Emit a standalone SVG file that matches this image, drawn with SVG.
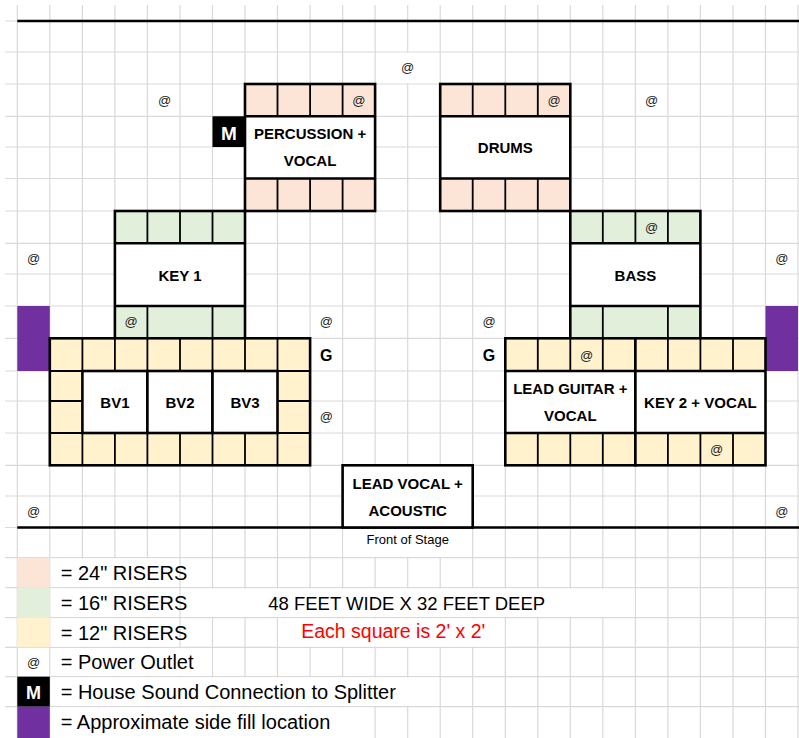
<svg xmlns="http://www.w3.org/2000/svg" width="799" height="738" viewBox="0 0 799 738">
<style>
.grid{stroke:#d9d9d9;stroke-width:1.2;fill:none}
.edge{stroke:#000;stroke-width:2.6;fill:none}
.inner{stroke:#000;stroke-width:1.8;fill:none}
.pink{fill:#FCE4D6}
.green{fill:#E2EFDA}
.yellow{fill:#FFF2CC}
.purple{fill:#7030A0}
.white{fill:#fff}
.lbl{font-family:'Liberation Sans',Arial,sans-serif;font-weight:bold;font-size:15px;fill:#000;text-anchor:middle}
.g{font-family:'Liberation Sans',Arial,sans-serif;font-weight:bold;font-size:16px;fill:#000;text-anchor:middle}
.at{font-family:'Liberation Sans',Arial,sans-serif;font-size:13px;fill:#222;text-anchor:middle}
.leg{font-family:'Liberation Sans',Arial,sans-serif;font-size:20px;fill:#000}
.m{font-family:'Liberation Sans',Arial,sans-serif;font-weight:bold;fill:#fff;text-anchor:middle}
</style>
<rect width="799" height="738" fill="#fff"/>
<g id="grid">
<path class="grid" d="M17.3 5V738M49.8 5V738M82.4 5V738M114.9 5V738M147.4 5V738M180 5V738M212.5 5V738M245 5V738M277.5 5V738M310.1 5V738M342.6 5V738M375.1 5V738M407.7 5V738M440.2 5V738M472.7 5V738M505.3 5V738M537.8 5V738M570.3 5V738M602.8 5V738M635.4 5V738M667.9 5V738M700.4 5V738M733 5V738M765.5 5V738M798 5V738"/>
<path class="grid" d="M5 21H799M5 52H799M5 84H799M5 116.3H799M5 147H799M5 178.5H799M5 211H799M5 243.3H799M5 274H799M5 306H799M5 338.3H799M5 371H799M5 401H799M5 433H799M5 465.3H799M5 496H799M5 527.5H799M5 557.7H799M5 587.7H799M5 617.7H799M5 647.3H799M5 676.7H799M5 706.7H799"/>
<g fill="#fff">
<rect x="376.1" y="52.8" width="63.1" height="30.4"/>
<rect x="343.6" y="528.5" width="128.1" height="28.4"/>
<rect x="50.8" y="558.5" width="128.2" height="28.4"/>
<rect x="50.8" y="588.5" width="128.2" height="28.4"/>
<rect x="181" y="588.5" width="453.4" height="28.4"/>
<rect x="50.8" y="618.5" width="128.2" height="28"/>
<rect x="278.5" y="618.5" width="225.8" height="28"/>
<rect x="50.8" y="648.1" width="160.7" height="27.8"/>
<rect x="50.8" y="677.5" width="388.4" height="28.4"/>
<rect x="50.8" y="707.5" width="323.3" height="30.5"/>
</g>
<path d="M17.3 21H799M17.3 527.5H799" stroke="#000" stroke-width="2.6" fill="none"/>
</g>
<g id="side-fill-left"><rect class="purple" x="17.3" y="306" width="32.5" height="65"/></g>
<g id="side-fill-right"><rect class="purple" x="765.5" y="306" width="32.5" height="65"/></g>
<g id="house-sound-m">
<rect x="212.5" y="116.3" width="32.5" height="30.7" fill="#000"/>
<text class="m" x="228.8" y="139.5" font-size="19">M</text>
</g>
<g id="percussion">
<rect class="pink" x="245" y="84" width="130.1" height="127"/>
<rect class="white" x="245" y="116.3" width="130.1" height="62.2"/>
<path class="inner" d="M277.5 84V116.3M310.1 84V116.3M342.6 84V116.3M277.5 178.5V211M310.1 178.5V211M342.6 178.5V211"/>
<path class="edge" d="M245 116.3H375.1M245 178.5H375.1"/>
<rect class="edge" x="245" y="84" width="130.1" height="127"/>
<text class="lbl" x="310.1" y="139.3">PERCUSSION +</text>
<text class="lbl" x="310.1" y="166">VOCAL</text>
<text class="at" x="358.9" y="105">@</text>
</g>
<g id="drums">
<rect class="pink" x="440.2" y="84" width="130.1" height="127"/>
<rect class="white" x="440.2" y="116.3" width="130.1" height="62.2"/>
<path class="inner" d="M472.7 84V116.3M505.3 84V116.3M537.8 84V116.3M472.7 178.5V211M505.3 178.5V211M537.8 178.5V211"/>
<path class="edge" d="M440.2 116.3H570.3M440.2 178.5H570.3"/>
<rect class="edge" x="440.2" y="84" width="130.1" height="127"/>
<text class="lbl" x="505.3" y="152.6">DRUMS</text>
<text class="at" x="554" y="105">@</text>
</g>
<g id="key1">
<rect class="green" x="114.9" y="211" width="130.1" height="127.3"/>
<rect class="white" x="114.9" y="243.3" width="130.1" height="62.7"/>
<path class="inner" d="M147.4 211V243.3M180 211V243.3M212.5 211V243.3M147.4 306V338.3M212.5 306V338.3"/>
<path class="edge" d="M114.9 243.3H245M114.9 306H245"/>
<rect class="edge" x="114.9" y="211" width="130.1" height="127.3"/>
<text class="lbl" x="180" y="281">KEY 1</text>
<text class="at" x="131.2" y="325.9">@</text>
</g>
<g id="bass">
<rect class="green" x="570.3" y="211" width="130.1" height="127.3"/>
<rect class="white" x="570.3" y="243.3" width="130.1" height="62.7"/>
<path class="inner" d="M602.8 211V243.3M635.4 211V243.3M667.9 211V243.3M602.8 306V338.3M667.9 306V338.3"/>
<path class="edge" d="M570.3 243.3H700.4M570.3 306H700.4"/>
<rect class="edge" x="570.3" y="211" width="130.1" height="127.3"/>
<text class="lbl" x="635.4" y="281">BASS</text>
<text class="at" x="651.6" y="231.7">@</text>
</g>
<g id="bv-riser">
<rect class="yellow" x="49.8" y="338.3" width="260.3" height="127"/>
<path class="inner" d="M82.4 338.3V371M114.9 338.3V371M147.4 338.3V371M180 338.3V371M212.5 338.3V371M245 338.3V371M277.5 338.3V371M82.4 433V465.3M114.9 433V465.3M147.4 433V465.3M180 433V465.3M212.5 433V465.3M245 433V465.3M277.5 433V465.3M49.8 401H82.4M277.5 401H310.1M49.8 371H310.1M49.8 433H310.1"/>
<rect class="edge" x="49.8" y="338.3" width="260.3" height="127"/>
</g>
<g id="bv1">
<rect class="edge" x="82.4" y="371" width="65" height="62" style="fill:#fff"/>
<text class="lbl" x="114.9" y="408">BV1</text>
</g>
<g id="bv2">
<rect class="edge" x="147.4" y="371" width="65.1" height="62" style="fill:#fff"/>
<text class="lbl" x="180" y="408">BV2</text>
</g>
<g id="bv3">
<rect class="edge" x="212.5" y="371" width="65" height="62" style="fill:#fff"/>
<text class="lbl" x="245" y="408">BV3</text>
</g>
<g id="lead-guitar">
<rect class="yellow" x="505.3" y="338.3" width="130.1" height="127"/>
<rect class="white" x="505.3" y="371" width="130.1" height="62"/>
<path class="inner" d="M537.8 338.3V371M570.3 338.3V371M602.8 338.3V371M537.8 433V465.3M570.3 433V465.3M602.8 433V465.3"/>
<path class="edge" d="M505.3 371H635.4M505.3 433H635.4"/>
<rect class="edge" x="505.3" y="338.3" width="130.1" height="127"/>
<text class="lbl" x="570.3" y="394.3">LEAD GUITAR +</text>
<text class="lbl" x="570.3" y="421">VOCAL</text>
<text class="at" x="586.6" y="359.6">@</text>
</g>
<g id="key2">
<rect class="yellow" x="635.4" y="338.3" width="130.1" height="127"/>
<rect class="white" x="635.4" y="371" width="130.1" height="62"/>
<path class="inner" d="M667.9 338.3V371M700.4 338.3V371M733 338.3V371M667.9 433V465.3M700.4 433V465.3M733 433V465.3"/>
<path class="edge" d="M635.4 371H765.5M635.4 433H765.5"/>
<rect class="edge" x="635.4" y="338.3" width="130.1" height="127"/>
<text class="lbl" x="700.4" y="408">KEY 2 + VOCAL</text>
<text class="at" x="716.7" y="453.9">@</text>
</g>
<g id="lead-vocal">
<rect class="edge" x="342.6" y="465.3" width="130.1" height="62.2" style="fill:#fff"/>
<text class="lbl" x="407.7" y="488.7">LEAD VOCAL +</text>
<text class="lbl" x="407.7" y="515.5">ACOUSTIC</text>
</g>
<g id="outlets">
<text class="at" x="407.7" y="72.1">@</text>
<text class="at" x="164.7" y="105">@</text>
<text class="at" x="651.6" y="105">@</text>
<text class="at" x="33.6" y="262.9">@</text>
<text class="at" x="781.8" y="262.9">@</text>
<text class="at" x="326.3" y="325.9">@</text>
<text class="at" x="489" y="325.9">@</text>
<text class="at" x="326.3" y="421.3">@</text>
<text class="at" x="33.6" y="515.9">@</text>
<text class="at" x="781.8" y="515.9">@</text>
</g>
<g id="ground">
<text class="g" x="326.3" y="361">G</text>
<text class="g" x="489" y="361">G</text>
</g>
<text x="407.7" y="543.5" font-family="'Liberation Sans',Arial,sans-serif" font-size="13" text-anchor="middle" fill="#000">Front of Stage</text>
<g id="legend">
<rect class="pink" x="17.3" y="557.7" width="32.5" height="30"/>
<rect class="green" x="17.3" y="587.7" width="32.5" height="30"/>
<rect class="yellow" x="17.3" y="617.7" width="32.5" height="29.6"/>
<text class="at" x="33.6" y="666.9">@</text>
<rect x="17.3" y="676.7" width="32.5" height="30" fill="#000"/>
<text class="m" x="33.6" y="699.3" font-size="18">M</text>
<rect class="purple" x="17.3" y="706.7" width="32.5" height="31.3"/>
<text class="leg" x="60.7" y="580" font-size="18.5">= 24" RISERS</text>
<text class="leg" x="60.7" y="610" font-size="18.5">= 16" RISERS</text>
<text class="leg" x="60.7" y="640" font-size="18.5">= 12" RISERS</text>
<text class="leg" x="60.7" y="669.3">= Power Outlet</text>
<text class="leg" x="60.7" y="699.3">= House Sound Connection to Splitter</text>
<text class="leg" x="60.7" y="728.7">= Approximate side fill location</text>
<text x="406.7" y="610" font-family="'Liberation Sans',Arial,sans-serif" font-size="18.5" text-anchor="middle" fill="#000">48 FEET WIDE X 32 FEET DEEP</text>
<text x="393.3" y="638" font-family="'Liberation Sans',Arial,sans-serif" font-size="19.5" text-anchor="middle" fill="#ff0000">Each square is 2' x 2'</text>
</g>
</svg>
